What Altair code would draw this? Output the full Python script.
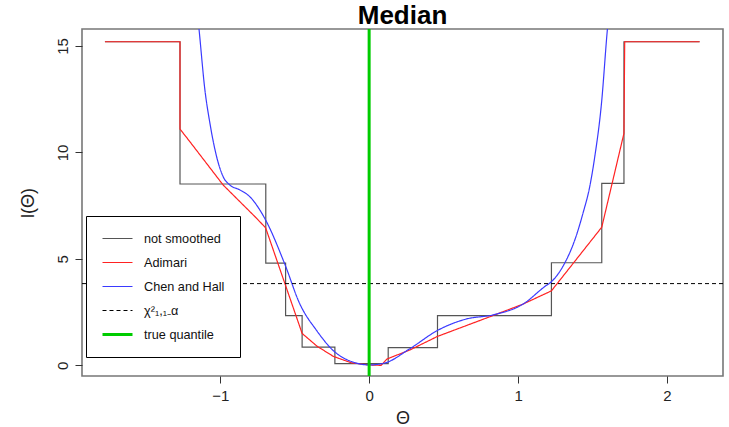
import altair as alt
import pandas as pd

# ---- data ----
series_names = ["not smoothed", "Adimari", "Chen and Hall",
                "\u03c7\u00b2\u2081,\u2081\u208b\u03b1", "true quantile"]
series_colors = ["#555555", "#ff2222", "#3a3aff", "#000000", "#00cc00"]
series_dash = [[1, 0], [1, 0], [1, 0], [4, 3], [1, 0]]
series_width = [1.2, 1.2, 1.2, 1.0, 3.0]

step_x = [-1.774, -1.270, -0.694, -0.561, -0.450, -0.230, 0.128, 0.459, 1.224, 1.562, 1.711, 2.219]
step_y = [15.2, 8.52, 4.80, 2.34, 0.86, 0.08, 0.83, 2.34, 4.82, 8.55, 15.2, 15.2]

red_x = [-1.774, -1.270, -1.270, -1.203, -0.980, -0.756, -0.695, -0.450, -0.350, -0.240, -0.120,
         0.000, 0.080, 0.120, 0.273, 0.459, 0.832, 1.034, 1.224, 1.562, 1.711, 1.716, 2.219]
red_y = [15.2, 15.2, 11.1, 10.5, 8.47, 6.91, 6.46, 1.5, 0.9, 0.42, 0.12,
         0.02, 0.0, 0.3, 0.72, 1.36, 2.34, 2.88, 3.50, 6.49, 10.9, 15.2, 15.2]

blue_x = [-1.160, -1.141, -1.103, -1.069, -1.024, -0.980, -0.935, -0.868, -0.801, -0.734,
          -0.693, -0.566, -0.465, -0.353, -0.242, -0.107, 0.000, 0.105, 0.273, 0.459,
          0.654, 0.832, 1.034, 1.179, 1.224, 1.313, 1.381, 1.436, 1.481, 1.515,
          1.560, 1.600, 1.620]
blue_y = [17.0, 15.7, 12.95, 11.37, 9.80, 8.86, 8.47, 8.24, 7.92, 7.30,
          6.80, 4.75, 2.88, 1.64, 0.70, 0.15, 0.02, 0.11, 0.78, 1.64,
          2.18, 2.37, 2.88, 3.70, 3.93, 4.80, 5.89, 7.15, 8.39, 9.80,
          12.3, 15.8, 17.2]

chi2_value = [3.84]
true_quantile = [0.0]

x_ticks = [-1, 0, 1, 2]
y_ticks = [0, 5, 10, 15]

FONT = "Liberation Sans"

# ---- build tables ----
def mk(xs, ys, name):
    return pd.DataFrame({"x": xs, "y": ys, "series": name, "i": list(range(len(xs)))})

df_step = mk(step_x, step_y, series_names[0])
df_red = mk(red_x, red_y, series_names[1])
df_blue = mk(blue_x, blue_y, series_names[2])
df_h = pd.DataFrame({"y": chi2_value, "series": series_names[3]})
df_v = pd.DataFrame({"x": true_quantile, "series": series_names[4]})

xscale = alt.Scale(domain=[-1.928, 2.376], nice=False, zero=False)
yscale = alt.Scale(domain=[-0.5, 15.8], nice=False, zero=False)

legend = alt.Legend(
    title=None, orient="none", legendX=4, legendY=187,
    symbolType="stroke", symbolSize=900, symbolOffset=0,
    labelFont=FONT, labelFontSize=12.7, labelColor="#111111", labelOffset=10,
    clipHeight=15, rowPadding=9, padding=15,
    strokeColor="#000000", fillColor="#ffffff", cornerRadius=0,
)

color = alt.Color("series:N", scale=alt.Scale(type="ordinal", domain=series_names, range=series_colors), legend=legend)
dash = alt.StrokeDash("series:N", scale=alt.Scale(type="ordinal", domain=series_names, range=series_dash), legend=legend)
width = alt.StrokeWidth("series:N", scale=alt.Scale(type="ordinal", domain=series_names, range=series_width), legend=legend)

xaxis = alt.Axis(values=x_ticks, title="\u0398", tickSize=7, labelPadding=17,
                 labelBaseline="alphabetic", labelFontSize=15, labelFont=FONT,
                 titleFont=FONT, titleFontSize=18, titleFontWeight="normal",
                 titleX=320.5, titleY=47, titleBaseline="alphabetic", titleAlign="center",
                 grid=False, domain=False)
yaxis = alt.Axis(values=y_ticks, title="l(\u0398)", tickSize=7, labelPadding=8,
                 labelAngle=270, labelAlign="center", labelBaseline="alphabetic",
                 labelFontSize=15, labelFont=FONT,
                 titleFont=FONT, titleFontSize=18, titleFontWeight="normal",
                 titleAngle=270, titleX=-54, titleY=173.5, titleAlign="center",
                 titleBaseline="middle", grid=False, domain=False)

X = alt.X("x:Q", scale=xscale, axis=xaxis)
Y = alt.Y("y:Q", scale=yscale, axis=yaxis)

step = alt.Chart(df_step).mark_line(interpolate="step-after", clip=True).encode(
    x=X, y=Y, order="i:Q", color=color, strokeDash=dash, strokeWidth=width)
red = alt.Chart(df_red).mark_line(clip=True).encode(
    x=X, y=Y, order="i:Q", color=color, strokeDash=dash, strokeWidth=width)
blue = alt.Chart(df_blue).mark_line(interpolate="monotone", clip=True).encode(
    x=X, y=Y, order="i:Q", color=color, strokeDash=dash, strokeWidth=width)
hline = alt.Chart(df_h).mark_rule().encode(
    y=Y, color=color, strokeDash=dash, strokeWidth=width)
vline = alt.Chart(df_v).mark_rule().encode(
    x=X, color=color, strokeDash=dash, strokeWidth=width)

chart = alt.layer(step, red, blue, hline, vline).properties(
    width=641, height=347,
    title=alt.TitleParams("Median", font=FONT, fontSize=26, fontWeight="bold",
                          anchor="middle", color="#000000", offset=-1),
    padding={"left": 82, "top": 29, "right": 6, "bottom": 51},
    autosize=alt.AutoSizeParams(type="none"),
).configure_view(
    stroke="#777777", strokeWidth=1.6
).configure_axis(
    domain=False, grid=False, tickColor="#333333", tickWidth=1,
    labelColor="#222222", titleColor="#222222"
)

chart.save("out.html", embed_options={"renderer": "svg", "actions": False})
